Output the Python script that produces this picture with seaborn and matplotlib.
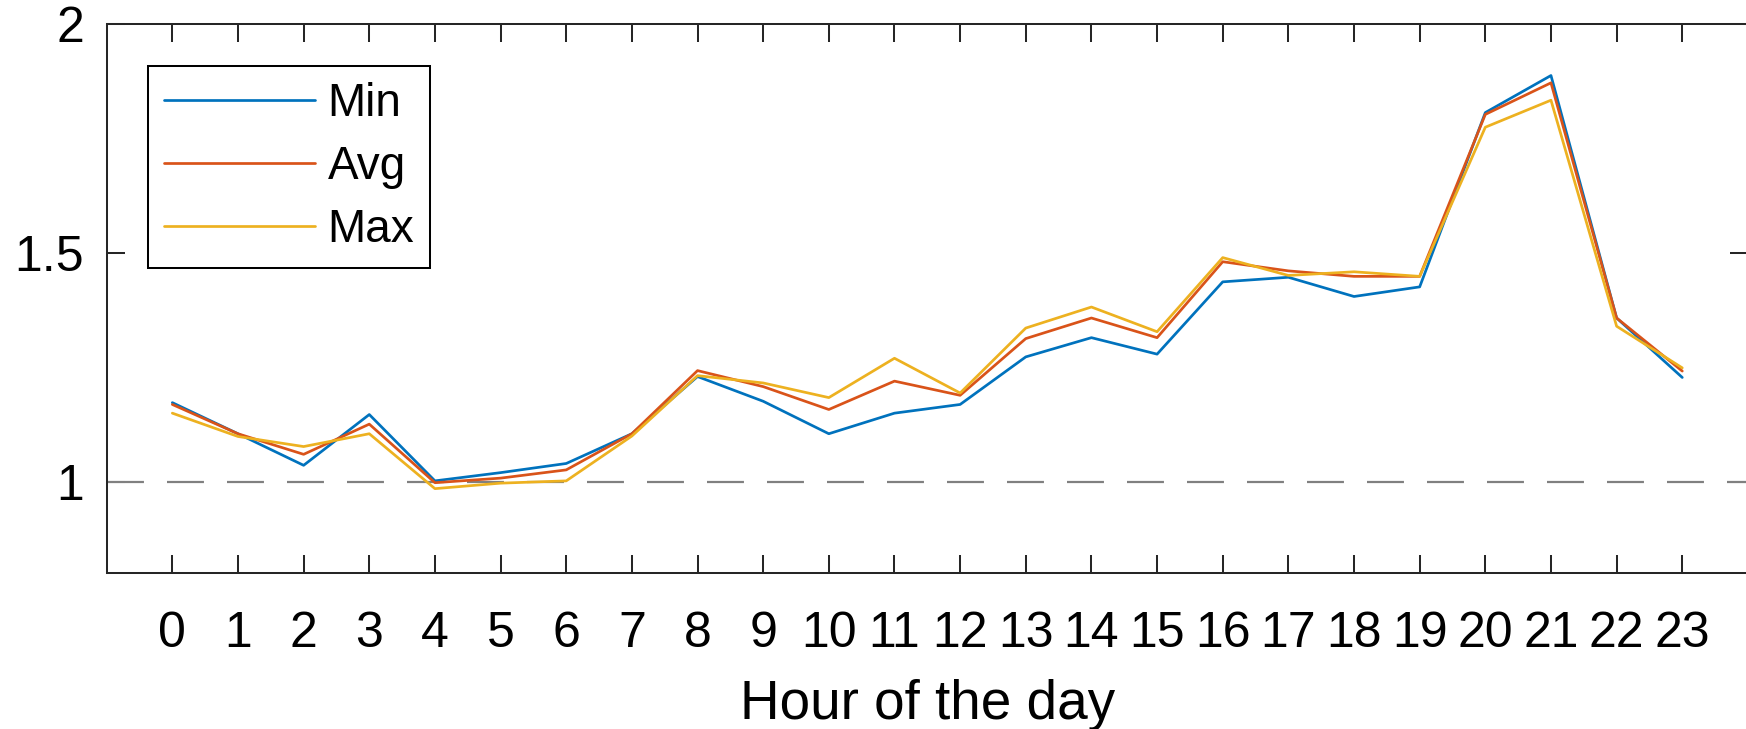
import numpy as np
import pandas as pd
import matplotlib
matplotlib.use("Agg")
import matplotlib.pyplot as plt
import seaborn as sns

# values
hours = list(range(24))
min_vals = [1.173, 1.105, 1.036, 1.147, 1.002, 1.020, 1.040, 1.105, 1.230, 1.176, 1.105, 1.150,
            1.169, 1.273, 1.315, 1.279, 1.437, 1.447, 1.405, 1.426, 1.807, 1.888, 1.358, 1.228]
avg_vals = [1.169, 1.105, 1.060, 1.126, 0.998, 1.008, 1.026, 1.105, 1.243, 1.208, 1.158, 1.220,
            1.189, 1.313, 1.358, 1.315, 1.481, 1.461, 1.449, 1.449, 1.803, 1.872, 1.358, 1.242]
max_vals = [1.150, 1.099, 1.077, 1.105, 0.985, 0.997, 1.002, 1.100, 1.232, 1.216, 1.184, 1.270,
            1.194, 1.336, 1.382, 1.328, 1.490, 1.451, 1.459, 1.449, 1.775, 1.834, 1.340, 1.249]
series_names = ["Min", "Avg", "Max"]
y_ticks = [1, 1.5, 2]
y_ticklabels = ["1", "1.5", "2"]

df = pd.DataFrame({
    "hour": hours * 3,
    "value": min_vals + avg_vals + max_vals,
    "series": [s for s in series_names for _ in hours],
})

sns.set_theme(style="ticks")
plt.rcParams["font.family"] = ["Liberation Sans", "DejaVu Sans"]
plt.rcParams["text.color"] = "black"
plt.rcParams["axes.labelcolor"] = "black"
plt.rcParams["xtick.color"] = "black"
plt.rcParams["ytick.color"] = "black"

palette = {"Min": "#0072BD", "Avg": "#D95319", "Max": "#EDB120"}
edge = "#262626"

fig = plt.figure(figsize=(17.46, 7.29), dpi=100)
ax = fig.add_axes([0.0611, 0.2136, 1.0011 - 0.0611, 0.9667 - 0.2136])

sns.lineplot(data=df, x="hour", y="value", hue="series", hue_order=series_names,
             palette=palette, linewidth=1.95, ax=ax)

# reference level
lw_dash = 1.6
ax.axhline(1, color="#808080", linewidth=lw_dash,
           linestyle=(0, (26.6 / lw_dash, 16.6 / lw_dash)), zorder=1)

ax.set_xlim(-1, 24)
ax.set_ylim(0.8, 2)
ax.set_xticks(hours)
ax.set_xticklabels([str(h) for h in hours])
ax.set_yticks(y_ticks)
ax.set_yticklabels(y_ticklabels)

for s in ax.spines.values():
    s.set_visible(True)
    s.set_color(edge)
    s.set_linewidth(1.45)

ax.tick_params(axis="both", which="major", direction="in", length=12.8, width=1.45,
               color=edge, labelsize=36, labelcolor="black",
               top=True, right=True)
ax.tick_params(axis="x", pad=27)
ax.tick_params(axis="y", pad=16.5)

ax.set_xlabel("Hour of the day", fontsize=39.5, labelpad=16, color="black")
ax.set_ylabel("")
ax.grid(False)

sns.move_legend(ax, "upper left", bbox_to_anchor=(0.0252, 0.924), borderaxespad=0,
                title=None, frameon=True, fancybox=False, fontsize=33,
                handlelength=3.3, handletextpad=0.28, borderpad=0.34,
                labelspacing=0.42, labelcolor="black")
leg = ax.get_legend()
leg.get_frame().set_edgecolor("black")
leg.get_frame().set_linewidth(1.45)
leg.get_frame().set_alpha(1)
for h in leg.legend_handles:
    h.set_linewidth(1.95)

fig.savefig("out.png", dpi=100)
